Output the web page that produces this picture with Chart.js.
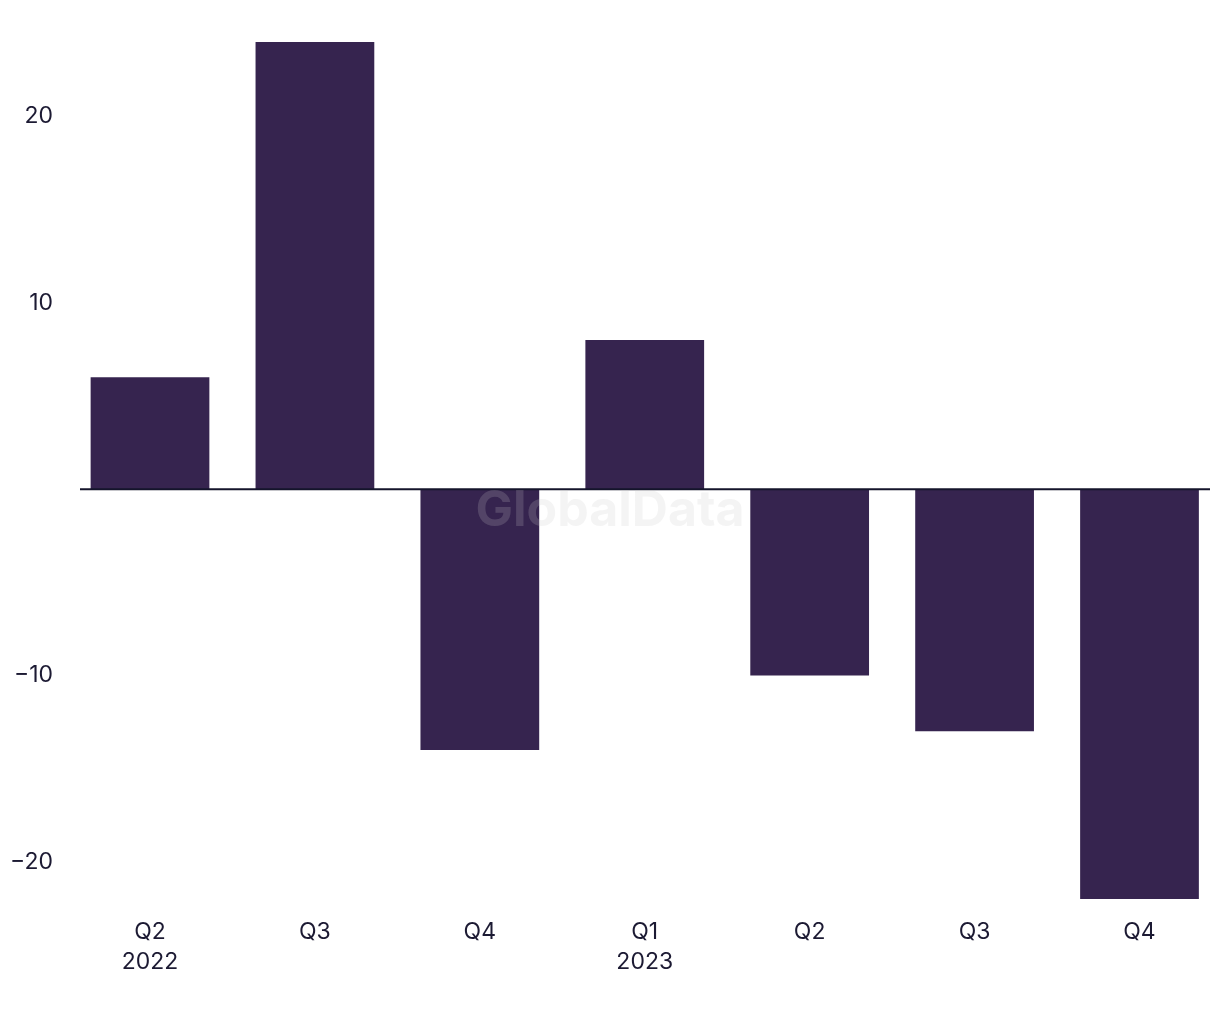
<!DOCTYPE html>
<html>
<head>
<meta charset="utf-8">
<script src="https://cdn.jsdelivr.net/npm/chart.js@4/dist/chart.umd.min.js"></script>
<style>
  html, body { margin: 0; padding: 0; background: #fff; }
  #wrap { width: 1220px; height: 1020px; }
</style>
</head>
<body>
<div id="wrap"><canvas id="myChart"></canvas></div>
<script>
const quarters = [['Q2', '2022'], 'Q3', 'Q4', ['Q1', '2023'], 'Q2', 'Q3', 'Q4'];
const changes = [6, 24, -14, 8, -10, -13, -22];
const yTicks = [-20, -10, 10, 20];

const barColor = '#36244f';
const textColor = '#1c1a33';

// zero line + watermark on top of the bars
const extras = {
  id: 'extras',
  afterDatasetsDraw(chart) {
    const c = chart.ctx;
    const y0 = chart.scales.y.getPixelForValue(0);
    c.save();
    c.strokeStyle = '#14142b';
    c.lineWidth = 2;
    c.beginPath();
    c.moveTo(80, y0);
    c.lineTo(1210, y0);
    c.stroke();
    c.fillStyle = 'rgba(200, 200, 200, 0.2)';
    c.font = 'bold 50px Inter';
    c.textAlign = 'center';
    c.textBaseline = 'middle';
    c.fillText('GlobalData', 610, 511);
    c.restore();
  }
};

const ctx = document.getElementById('myChart').getContext('2d');
const myChart = new Chart(ctx, {
  type: 'bar',
  data: {
    labels: quarters,
    datasets: [{
      data: changes,
      backgroundColor: barColor,
      barPercentage: 0.72,
      categoryPercentage: 1,
      clip: false
    }]
  },
  options: {
    responsive: true,
    maintainAspectRatio: false,
    animation: false,
    layout: { padding: { top: 42, right: 80.5, bottom: 0, left: 0 } },
    plugins: {
      legend: { display: false },
      tooltip: { enabled: false }
    },
    scales: {
      x: {
        offset: false,
        grid: { display: false, drawTicks: false },
        border: { display: false },
        ticks: {
          color: textColor,
          font: { family: 'Inter', size: 23, lineHeight: 1.3 },
          padding: 18,
          maxRotation: 0,
          autoSkip: false
        },
        afterFit(scale) { scale.height = 121; }
      },
      y: {
        min: -22,
        max: 24,
        grid: { display: false, drawTicks: false },
        border: { display: false },
        afterBuildTicks(scale) { scale.ticks = yTicks.map(v => ({ value: v })); },
        ticks: {
          color: textColor,
          font: { family: 'Inter', size: 23 },
          padding: 97,
          callback: v => (v < 0 ? '\u2212' + Math.abs(v) : String(v))
        },
        afterFit(scale) {
          scale.width = 150;
          scale.paddingTop = 0;
          scale.paddingBottom = 0;
        }
      }
    }
  },
  plugins: [extras]
});
</script>
</body>
</html>
